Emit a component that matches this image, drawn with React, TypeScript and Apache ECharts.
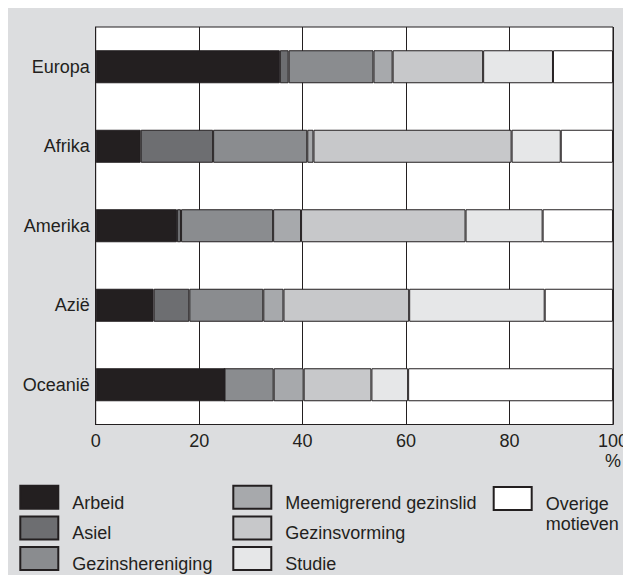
import React, { useEffect, useRef } from "react";
import * as echarts from "echarts";

const categories = ["Europa", "Afrika", "Amerika", "Azië", "Oceanië"];
const seriesNames = [
  "Arbeid",
  "Asiel",
  "Gezinshereniging",
  "Meemigrerend gezinslid",
  "Gezinsvorming",
  "Studie",
  "Overige motieven",
];
const arbeid = [35.6, 8.7, 15.7, 11.2, 24.9];
const asiel = [1.7, 14.0, 0.8, 6.9, 0];
const gezinshereniging = [16.4, 18.2, 17.8, 14.3, 9.5];
const meemigrerend = [3.7, 1.2, 5.4, 3.9, 5.8];
const gezinsvorming = [17.5, 38.3, 31.8, 24.3, 13.1];
const studie = [13.5, 9.5, 14.9, 26.2, 7.1];
const overige = [11.6, 10.1, 13.6, 13.2, 39.6];
const seriesValues = [arbeid, asiel, gezinshereniging, meemigrerend, gezinsvorming, studie, overige];
const colors = ["#231f20", "#6d6e71", "#8a8c8f", "#a7a9ac", "#c7c8ca", "#e6e7e8", "#ffffff"];
const xTicks = [0, 20, 40, 60, 80, 100];
const unitLabel = "%";

const FONT = "'Liberation Sans', Arial, Helvetica, sans-serif";
const INK = "#231f20";

export default function App() {
  const ref = useRef<HTMLDivElement>(null);
  useEffect(() => {
    document.documentElement.style.overflow = "hidden";
    document.body.style.overflow = "hidden";
    const chart = echarts.init(ref.current!, null, { renderer: "svg" });
    const textBase = { fontFamily: FONT, fontSize: 18, lineHeight: 20, color: INK };
    const legendBase = {
      orient: "vertical" as const,
      padding: 0,
      itemWidth: 38,
      itemHeight: 23,
      itemGap: 1.7,
      icon: "rect",
      selectedMode: false,
      formatter: (n: string) => `{t|${n}}`,
      textStyle: {
        ...textBase,
        rich: { t: { ...textBase, padding: [11, 0, 0, 9] } },
      },
    };
    chart.setOption({
      animation: false,
      textStyle: { fontFamily: FONT },
      grid: {
        left: 87.7,
        right: 13.8,
        top: 19,
        bottom: 158.5,
        show: true,
        backgroundColor: "#ffffff",
        borderColor: INK,
        borderWidth: 1,
      },
      legend: [
        { ...legendBase, left: 11.3, top: 474.7, data: seriesNames.slice(0, 3) },
        { ...legendBase, left: 224.3, top: 474.7, data: seriesNames.slice(3, 6) },
        {
          ...legendBase,
          left: 484.7,
          top: 456.1,
          data: seriesNames.slice(6),
          formatter: (n: string) =>
            n
              .split(" ")
              .map((w) => `{t|${w}}`)
              .join("\n"),
          textStyle: {
            ...textBase,
            rich: { t: { ...textBase, padding: [31, 0, 0, 9] } },
          },
        },
      ],
      xAxis: {
        type: "value",
        min: xTicks[0],
        max: xTicks[xTicks.length - 1],
        interval: xTicks[1] - xTicks[0],
        axisLine: { show: true, lineStyle: { color: INK, width: 1 } },
        axisTick: { show: false },
        splitLine: { show: true, lineStyle: { color: INK, width: 1 } },
        axisLabel: {
          color: INK,
          fontSize: 18,
          lineHeight: 20,
          margin: 6,
          fontFamily: FONT,
          formatter: (v: number) =>
            v === xTicks[xTicks.length - 1] ? `${v}\n${unitLabel}` : String(v),
        },
      },
      yAxis: {
        type: "category",
        inverse: true,
        data: categories,
        axisLine: { show: true, lineStyle: { color: INK, width: 1 } },
        axisTick: { show: false },
        axisLabel: { color: INK, fontSize: 18, margin: 6, fontFamily: FONT },
      },
      series: seriesNames.map((name, i) => ({
        name,
        type: "bar",
        stack: "total",
        barWidth: 33,
        data: seriesValues[i],
        itemStyle: { color: colors[i], borderColor: INK, borderWidth: 1 },
        emphasis: { disabled: true },
      })),
    });
    return () => chart.dispose();
  }, []);
  return (
    <div
      ref={ref}
      style={{ width: 623, height: 575, background: "#dcdddf", marginBottom: -8 }}
    />
  );
}
